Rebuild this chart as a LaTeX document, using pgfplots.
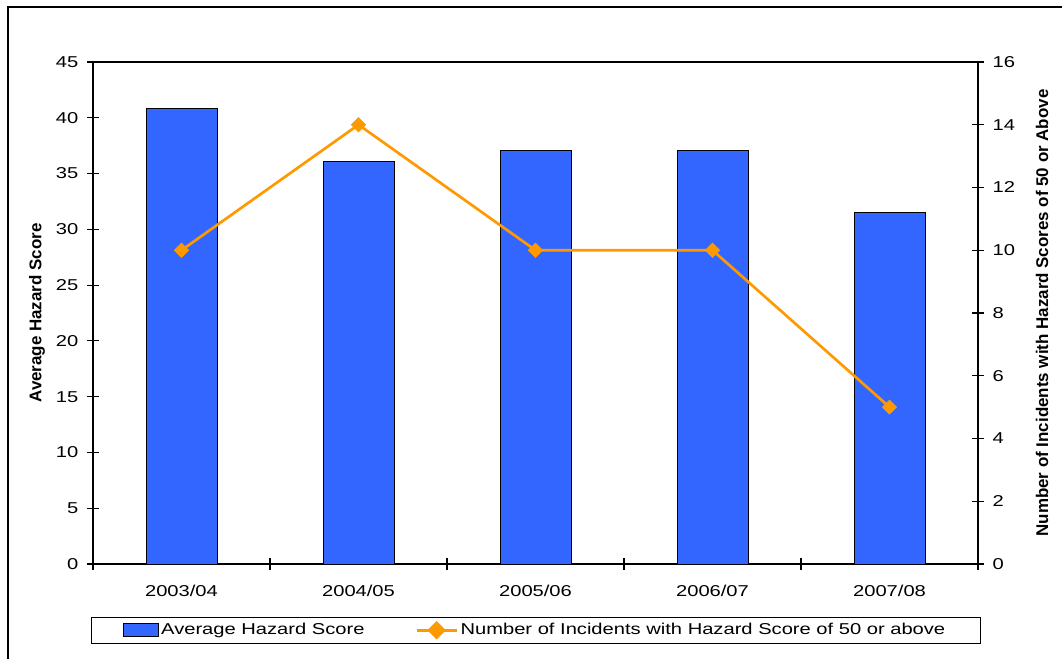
\documentclass[border=0pt]{standalone}
\usepackage{pgfplots}
\pgfplotsset{compat=1.18}
\usepackage{fontspec}
\setmainfont{Liberation Sans}
\newfontfamily\chartfont[FakeStretch=1.28]{Liberation Sans}
\newcommand{\tickfont}{\chartfont\fontsize{11.8}{14}\selectfont}
\newcommand{\labelfont}{\fontsize{12.7}{15}\selectfont\bfseries}
\definecolor{barblue}{HTML}{3366FF}
\definecolor{lineorange}{HTML}{FF9900}

\begin{document}
\begin{tikzpicture}[x=1pt,y=1pt]
% page: 1062x659 px at 0.75pt/px
\useasboundingbox (0,0) rectangle (796.5,494.25);
\draw[line width=1.5pt] (6,0) -- (6,489) -- (796.5,489);

\begin{axis}[
    at={(69.75pt,71.25pt)}, anchor=south west,
    scale only axis, width=663.75pt, height=376.5pt,
    xmin=0.5, xmax=5.5, ymin=0, ymax=45,
    ytick={0,5,...,45},
    xtick={1,2,3,4,5},
    xticklabels={2003/04,2004/05,2005/06,2006/07,2007/08},
    minor xtick={0.5,1.5,2.5,3.5,4.5,5.5},
    major x tick style={draw=none},
    xtick pos=bottom, ytick pos=left,
    tick align=center,
    major tick length=9pt, minor tick length=9pt,
    tick style={black, line width=0.8pt},
    axis line style={line width=1.5pt},
    ticklabel style={font=\tickfont},
    /pgf/number format/assume math mode=true,
    xticklabel style={yshift=-8pt},
    yticklabel style={xshift=-3pt},
    ylabel={Average Hazard Score},
    ylabel style={font=\labelfont, at={(axis description cs:-0.0633,0.5)}, anchor=center},
    clip=false,
]
\addplot[ybar, bar width=0.4, fill=barblue, draw=black, line width=0.6pt, bar shift=0pt]
  coordinates {(1,40.8)(2,36.1)(3,37.1)(4,37.1)(5,31.5)};
\end{axis}

\begin{axis}[
    at={(69.75pt,71.25pt)}, anchor=south west,
    scale only axis, width=663.75pt, height=376.5pt,
    xmin=0.5, xmax=5.5, ymin=0, ymax=16,
    axis x line=none, axis y line*=right,
    ytick={0,2,...,16},
    tick align=center, major tick length=9pt,
    tick style={black, line width=0.8pt},
    axis line style={line width=1.5pt, -},
    ticklabel style={font=\tickfont},
    /pgf/number format/assume math mode=true,
    yticklabel style={xshift=3pt},
    ylabel={Number of Incidents with Hazard Scores of 50 or Above},
    ylabel style={font=\labelfont, at={(axis description cs:1.0723,0.5)}, anchor=center, rotate=0},
    legend style={
        at={(0.5,-0.106)}, anchor=north,
        legend columns=2, draw=black, line width=0.6pt,
        font=\tickfont,
        inner xsep=24pt, inner ysep=3pt,
        nodes={inner xsep=2pt, inner ysep=1pt},
        /tikz/every even column/.append style={column sep=36pt},
    },
    legend cell align=left,
    clip=false,
]
\addlegendimage{legend image code/.code={
    \draw[fill=barblue, draw=black, line width=0.6pt] (0pt,-4.5pt) rectangle (26pt,5pt);}}
\addlegendentry{Average Hazard Score}
\addplot[lineorange, line width=2pt, mark=diamond*, mark size=5.3pt,
    mark options={fill=lineorange, draw=lineorange, line width=0.5pt, xscale=1.33},
    legend image code/.code={
    \draw[lineorange, line width=2pt] (0pt,0pt) -- (30pt,0pt);
    \fill[lineorange] (15pt,5.5pt) -- (20.5pt,0pt) -- (15pt,-5.5pt) -- (9.5pt,0pt) -- cycle;}]
  coordinates {(1,10)(2,14)(3,10)(4,10)(5,5)};
\addlegendentry{Number of Incidents with Hazard Score of 50 or above}
\end{axis}
\end{tikzpicture}
\end{document}
